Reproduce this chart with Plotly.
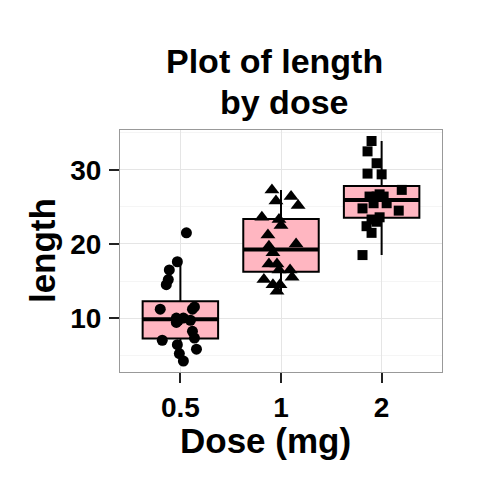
import numpy as np
import plotly.graph_objects as go

# ToothGrowth-style lengths by dose
dose_labels = ["0.5", "1", "2"]
len_05 = [21.5, 17.6, 16.5, 15.2, 14.5, 11.5, 11.2, 11.2, 10.0, 10.0,
          9.7, 9.7, 9.4, 8.2, 7.3, 7.0, 6.4, 5.8, 5.2, 4.2]
len_1 = [27.3, 26.4, 25.8, 25.2, 23.6, 23.3, 22.5, 21.2, 20.0, 19.7,
         18.8, 17.3, 17.3, 16.5, 16.5, 15.5, 15.2, 14.5, 14.5, 13.6]
len_2 = [33.9, 32.5, 30.9, 29.5, 29.4, 27.3, 26.7, 26.4, 26.4, 26.4,
         25.5, 25.5, 24.8, 24.5, 23.6, 23.3, 23.0, 22.4, 21.5, 18.5]

# horizontal jitter of each point as seen in the picture (in category units)
jit_05 = [0.06, -0.03, -0.11, -0.12, -0.14, 0.14, -0.20, 0.12, 0.03, -0.04,
          0.10, -0.02, -0.04, 0.12, 0.14, -0.18, -0.03, 0.16, -0.01, 0.03]
jit_1 = [-0.09, 0.10, -0.05, 0.17, -0.19, -0.02, 0.0, -0.13, 0.15, -0.12,
         -0.08, -0.12, -0.04, 0.09, -0.02, 0.11, -0.17, -0.08, -0.01, -0.04]
jit_2 = [-0.10, -0.14, -0.05, -0.14, 0.0, 0.20, -0.02, -0.12, -0.05, 0.02,
         -0.08, 0.05, -0.19, 0.17, -0.02, -0.10, -0.05, -0.15, -0.10, -0.19]

groups = [len_05, len_1, len_2]
jitters = [jit_05, jit_1, jit_2]
symbols = ["circle", "triangle-up", "square"]
sizes = [11, 13, 10]

FONT = "Liberation Sans"
BOX_W = 0.75

fig = go.Figure()

for i, vals in enumerate(groups):
    pos = i + 1
    v = np.array(vals)
    q1, med, q3 = np.percentile(v, [25, 50, 75])
    iqr = q3 - q1
    lo = v[v >= q1 - 1.5 * iqr].min()
    hi = v[v <= q3 + 1.5 * iqr].max()
    fig.add_trace(go.Box(
        x=[pos], q1=[q1], median=[med], q3=[q3],
        lowerfence=[lo], upperfence=[hi],
        width=BOX_W, whiskerwidth=0,
        fillcolor="#FFB6C1", line=dict(color="black", width=2),
        boxpoints=False, showlegend=False, hoverinfo="skip",
    ))
    # thicker median like ggplot
    fig.add_trace(go.Scatter(
        x=[pos - BOX_W / 2, pos + BOX_W / 2], y=[med, med],
        mode="lines", line=dict(color="black", width=4),
        showlegend=False, hoverinfo="skip",
    ))

for i, vals in enumerate(groups):
    pos = i + 1
    fig.add_trace(go.Scatter(
        x=[pos + j for j in jitters[i]], y=vals,
        mode="markers",
        marker=dict(symbol=symbols[i], size=sizes[i], color="black",
                    line=dict(width=0)),
        showlegend=False,
    ))

title_font = dict(family=FONT, size=34, color="black", weight="bold")
lab_font = dict(family=FONT, size=35, color="black", weight="bold")
# page body has an 8px margin, so the margins are shifted to compensate
fig.update_layout(
    width=480, height=480,
    margin=dict(l=112, r=46, t=122, b=116),
    paper_bgcolor="white", plot_bgcolor="white",
    font=dict(family=FONT, color="black"),
    annotations=[
        dict(text="Plot of length", x=0.481, y=1.285, xref="paper", yref="paper",
             xanchor="center", yanchor="middle", showarrow=False, font=title_font),
        dict(text="by dose", x=0.509, y=1.115, xref="paper", yref="paper",
             xanchor="center", yanchor="middle", showarrow=False, font=title_font),
        dict(text="Dose (mg)", x=0.453, y=-0.281, xref="paper", yref="paper",
             xanchor="center", yanchor="middle", showarrow=False, font=lab_font),
        dict(text="length", x=-0.242, y=0.5, xref="paper", yref="paper",
             xanchor="center", yanchor="middle", textangle=-90,
             showarrow=False, font=lab_font),
    ],
)

tick_font = dict(family=FONT, size=28, color="black", weight="bold")
fig.update_xaxes(
    range=[0.4, 3.6], tickvals=[1, 2, 3], ticktext=dose_labels,
    showgrid=True, gridcolor="#E5E5E5", gridwidth=1,
    ticks="outside", ticklen=10, tickwidth=2, tickcolor="#222222",
    tickfont=tick_font, zeroline=False,
    showline=True, linecolor="#999999", linewidth=1, mirror=True,
)
fig.update_yaxes(
    range=[2.715, 35.385], tickvals=[10, 20, 30],
    showgrid=True, gridcolor="#E5E5E5", gridwidth=1,
    minor=dict(tickvals=[5, 15, 25, 35], showgrid=True, gridcolor="#F5F5F5"),
    ticks="outside", ticklen=10, tickwidth=2, tickcolor="#222222",
    tickfont=tick_font, ticklabelstandoff=2, zeroline=False,
    showline=True, linecolor="#999999", linewidth=1, mirror=True,
)

fig.write_html("out.html")
